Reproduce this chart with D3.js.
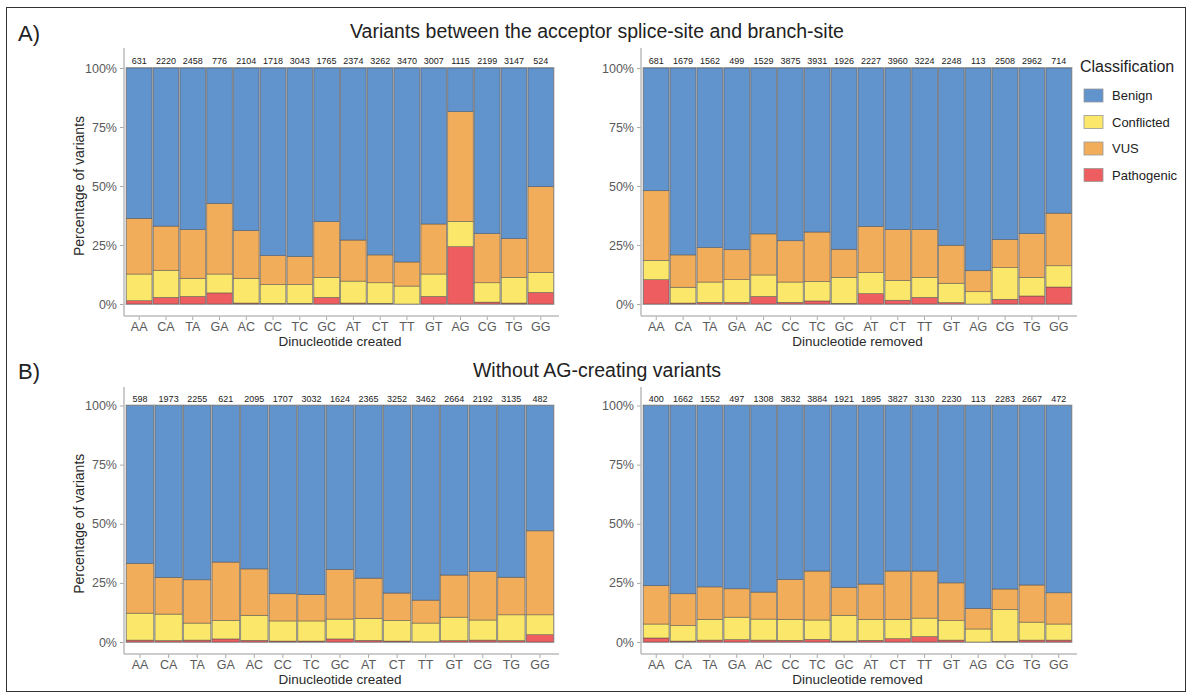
<!DOCTYPE html>
<html>
<head>
<meta charset="utf-8">
<script src="https://cdn.jsdelivr.net/npm/d3@7"></script>
<style>
  body { margin: 0; background: #fff; }
  svg { font-family: "Liberation Sans", Arial, sans-serif; }
</style>
</head>
<body>
<script>
// dinucleotide categories
var dinucAll = ["AA", "CA", "TA", "GA", "AC", "CC", "TC", "GC", "AT", "CT", "TT", "GT", "AG", "CG", "TG", "GG"];
var dinucNoAG = ["AA", "CA", "TA", "GA", "AC", "CC", "TC", "GC", "AT", "CT", "TT", "GT", "CG", "TG", "GG"];
var classes = ["Pathogenic", "Conflicted", "VUS", "Benign"];
var legendOrder = ["Benign", "Conflicted", "VUS", "Pathogenic"];
var yTicks = [0, 25, 50, 75, 100];

// panel A, created (percentages per class)
var aCreatedPatho = [1.4, 2.8, 3.2, 4.7, 0.4, 0.3, 0.3, 2.8, 0.4, 0.3, 0, 3.2, 24.3, 0.8, 0.4, 4.9];
var aCreatedConfl = [11.3, 11.5, 7.7, 8.0, 10.5, 8.0, 8.0, 8.5, 9.3, 8.7, 7.6, 9.5, 10.7, 8.2, 10.9, 8.5];
var aCreatedVus = [23.6, 18.7, 20.6, 29.9, 20.2, 12.2, 11.8, 23.6, 17.4, 11.8, 10.2, 21.2, 46.5, 20.8, 16.4, 36.3];
var aCreatedBenign = [63.7, 67.0, 68.5, 57.4, 68.9, 79.5, 79.9, 65.1, 72.9, 79.2, 82.2, 66.1, 18.5, 70.2, 72.3, 50.3];
var aCreatedN = [631, 2220, 2458, 776, 2104, 1718, 3043, 1765, 2374, 3262, 3470, 3007, 1115, 2199, 3147, 524];

// panel A, removed
var aRemovedPatho = [10.3, 0.4, 0.7, 0.7, 3.2, 0.7, 1.3, 0.3, 4.4, 1.6, 2.8, 0.6, 0, 2.0, 3.4, 7.2];
var aRemovedConfl = [8.2, 6.7, 8.6, 9.6, 9.1, 8.6, 8.3, 11.0, 8.9, 8.4, 8.5, 8.2, 5.2, 13.4, 7.9, 9.0];
var aRemovedVus = [29.5, 13.7, 14.6, 12.7, 17.4, 17.5, 20.9, 11.9, 19.6, 21.5, 20.2, 16.1, 8.9, 11.9, 18.5, 22.3];
var aRemovedBenign = [52.0, 79.2, 76.1, 77.0, 70.3, 73.2, 69.5, 76.8, 67.1, 68.5, 68.5, 75.1, 85.9, 72.7, 70.2, 61.5];
var aRemovedN = [681, 1679, 1562, 499, 1529, 3875, 3931, 1926, 2227, 3960, 3224, 2248, 113, 2508, 2962, 714];

// panel B, created (no AG)
var bCreatedPatho = [0.8, 0.6, 0.8, 1.3, 0.7, 0.4, 0.4, 1.3, 0.7, 0.4, 0.1, 0.6, 0.8, 0.6, 3.1];
var bCreatedConfl = [11.4, 11.2, 7.2, 7.8, 10.6, 8.5, 8.5, 8.4, 9.3, 8.7, 7.9, 9.9, 8.5, 10.9, 8.4];
var bCreatedVus = [21.0, 15.5, 18.3, 24.7, 19.6, 11.5, 11.1, 21.0, 17.0, 11.6, 9.7, 17.8, 20.5, 15.9, 35.5];
var bCreatedBenign = [66.8, 72.7, 73.7, 66.2, 69.1, 79.6, 80.0, 69.3, 73.0, 79.3, 82.3, 71.7, 70.2, 72.6, 53.0];
var bCreatedN = [598, 1973, 2255, 621, 2095, 1707, 3032, 1624, 2365, 3252, 3462, 2664, 2192, 3135, 482];

// panel B, removed
var bRemovedPatho = [1.7, 0.4, 0.8, 1.0, 0.8, 0.7, 1.1, 0.4, 0.7, 1.4, 2.3, 0.8, 0, 0.3, 0.8, 0.8];
var bRemovedConfl = [5.9, 6.6, 8.8, 9.5, 8.9, 8.9, 8.2, 10.9, 8.9, 8.2, 7.8, 8.2, 5.5, 13.5, 7.6, 6.8];
var bRemovedVus = [16.2, 13.4, 13.7, 12.0, 11.4, 16.8, 20.7, 11.8, 14.9, 20.4, 19.9, 16.0, 8.7, 8.6, 15.7, 13.2];
var bRemovedBenign = [76.2, 79.6, 76.7, 77.5, 78.9, 73.6, 70.0, 76.9, 75.5, 70.0, 70.0, 75.0, 85.8, 77.6, 75.9, 79.2];
var bRemovedN = [400, 1662, 1552, 497, 1308, 3832, 3884, 1921, 1895, 3827, 3130, 2230, 113, 2283, 2667, 472];

var color = d3.scaleOrdinal()
              .domain(["Benign", "Conflicted", "VUS", "Pathogenic"])
              .range(["#6193cd", "#fbe76a", "#f1ad5a", "#ee5d60"]);

var svg = d3.select("body")
            .append("svg")
            .attr("width", 1192)
            .attr("height", 697);

// outer frame
svg.append("rect")
   .attr("x", 6.5).attr("y", 7.5)
   .attr("width", 1179).attr("height", 684)
   .attr("fill", "none")
   .attr("stroke", "#333")
   .attr("stroke-width", 1);

// builds the rows for a panel
function makeRows(cats, patho, confl, vus, benign, counts) {
  return cats.map(function(c, i) {
    return {cat: c, Pathogenic: patho[i], Conflicted: confl[i], VUS: vus[i], Benign: benign[i], n: counts[i]};
  });
}

// draws one stacked percentage panel
function drawPanel(opts) {
  var rows = opts.rows;
  var x = d3.scaleBand()
            .domain(rows.map(function(d) { return d.cat; }))
            .range([opts.x0 + 2.5, opts.x1 - 2.5])
            .paddingInner(0.05);
  var y = d3.scaleLinear()
            .domain([0, 100])
            .range([opts.yBottom, opts.yTop]);

  var g = svg.append("g");
  var stack = d3.stack().keys(classes);
  var series = stack(rows);

  // outline of each bar
  g.selectAll("rect.outline")
   .data(rows)
   .enter()
   .append("rect")
   .attr("class", "outline")
   .attr("x", function(d) { return x(d.cat) - 0.5; })
   .attr("y", y(100) - 0.5)
   .attr("width", x.bandwidth() + 1)
   .attr("height", y(0) - y(100) + 1)
   .attr("fill", "none")
   .attr("stroke", "#b5b5b5")
   .attr("stroke-width", 1);

  g.selectAll("g.layer")
   .data(series)
   .enter()
   .append("g")
   .attr("class", "layer")
   .attr("fill", function(d) { return color(d.key); })
   .selectAll("rect")
   .data(function(d) { return d; })
   .enter()
   .append("rect")
   .attr("x", function(d) { return x(d.data.cat); })
   .attr("y", function(d) { return y(d[1]); })
   .attr("width", x.bandwidth())
   .attr("height", function(d) { return y(d[0]) - y(d[1]); })
   .attr("stroke", "#4a4a4a")
   .attr("stroke-width", 0.6)
   .attr("stroke-opacity", 0.75);

  // counts above the bars
  g.selectAll("text.count")
   .data(rows)
   .enter()
   .append("text")
   .attr("class", "count")
   .attr("x", function(d) { return x(d.cat) + x.bandwidth() / 2; })
   .attr("y", y(100) - 4)
   .attr("text-anchor", "middle")
   .style("font-size", "9px")
   .style("fill", "#222")
   .text(function(d) { return d.n; });

  // y axis
  var yAxis = d3.axisLeft(y)
                .tickValues(yTicks)
                .tickSize(4)
                .tickPadding(3)
                .tickFormat(function(d) { return d + "%"; });
  var ya = svg.append("g")
              .attr("transform", "translate(" + opts.x0 + ",0)")
              .call(yAxis);
  ya.select(".domain").remove();
  ya.selectAll(".tick line").attr("stroke", "#aaa");
  ya.selectAll(".tick text")
    .style("font-size", "12.5px")
    .style("font-family", "Liberation Sans, Arial, sans-serif")
    .attr("fill", "#5a5a5a");
  svg.append("line")
     .attr("x1", opts.x0).attr("x2", opts.x0)
     .attr("y1", opts.axisTop).attr("y2", opts.axisBottom)
     .attr("stroke", "#bbb").attr("stroke-width", 1.5);

  // x axis
  var xAxis = d3.axisBottom(x)
                .tickSize(4)
                .tickPadding(2);
  var xa = svg.append("g")
              .attr("transform", "translate(0," + opts.axisBottom + ")")
              .call(xAxis);
  xa.select(".domain").remove();
  xa.selectAll(".tick line").attr("stroke", "#aaa");
  xa.selectAll(".tick text")
    .style("font-size", "12.5px")
    .style("font-family", "Liberation Sans, Arial, sans-serif")
    .attr("fill", "#5a5a5a");
  svg.append("line")
     .attr("x1", opts.x0).attr("x2", opts.x1 + 3)
     .attr("y1", opts.axisBottom).attr("y2", opts.axisBottom)
     .attr("stroke", "#bbb").attr("stroke-width", 1.5);

  // x title
  svg.append("text")
     .attr("x", (opts.x0 + opts.x1) / 2)
     .attr("y", opts.axisBottom + 30)
     .attr("text-anchor", "middle")
     .style("font-size", "13.5px")
     .style("fill", "#2a2a2a")
     .text(opts.xTitle);

  // y title
  if (opts.yTitle) {
    svg.append("text")
       .attr("transform", "translate(84," + ((opts.yTop + opts.yBottom) / 2) + ")rotate(-90)")
       .attr("text-anchor", "middle")
       .style("font-size", "14px")
       .style("fill", "#2a2a2a")
       .text(opts.yTitle);
  }
}

// panel titles
svg.append("text").attr("x", 18).attr("y", 41)
   .style("font-size", "22px").style("fill", "#222").text("A)");
svg.append("text").attr("x", 597).attr("y", 38)
   .attr("text-anchor", "middle")
   .style("font-size", "19.5px").style("fill", "#222")
   .text("Variants between the acceptor splice-site and branch-site");
svg.append("text").attr("x", 18).attr("y", 379)
   .style("font-size", "22px").style("fill", "#222").text("B)");
svg.append("text").attr("x", 597).attr("y", 377)
   .attr("text-anchor", "middle")
   .style("font-size", "19.5px").style("fill", "#222")
   .text("Without AG-creating variants");

drawPanel({
  rows: makeRows(dinucAll, aCreatedPatho, aCreatedConfl, aCreatedVus, aCreatedBenign, aCreatedN),
  x0: 124, x1: 556, yTop: 68, yBottom: 304, axisTop: 48, axisBottom: 316,
  xTitle: "Dinucleotide created", yTitle: "Percentage of variants"
});
drawPanel({
  rows: makeRows(dinucAll, aRemovedPatho, aRemovedConfl, aRemovedVus, aRemovedBenign, aRemovedN),
  x0: 641, x1: 1074, yTop: 68, yBottom: 304, axisTop: 48, axisBottom: 316,
  xTitle: "Dinucleotide removed"
});
drawPanel({
  rows: makeRows(dinucNoAG, bCreatedPatho, bCreatedConfl, bCreatedVus, bCreatedBenign, bCreatedN),
  x0: 124, x1: 556, yTop: 405.5, yBottom: 642, axisTop: 387, axisBottom: 654,
  xTitle: "Dinucleotide created", yTitle: "Percentage of variants"
});
drawPanel({
  rows: makeRows(dinucAll, bRemovedPatho, bRemovedConfl, bRemovedVus, bRemovedBenign, bRemovedN),
  x0: 641, x1: 1074, yTop: 405.5, yBottom: 642, axisTop: 387, axisBottom: 654,
  xTitle: "Dinucleotide removed"
});

// legend
var legend = svg.append("g").attr("transform", "translate(1080,0)");
legend.append("text")
      .attr("x", 0).attr("y", 72)
      .style("font-size", "16px").style("fill", "#222")
      .text("Classification");
legend.selectAll("rect.key")
      .data(legendOrder)
      .enter()
      .append("rect")
      .attr("class", "key")
      .attr("x", 4)
      .attr("y", function(d, i) { return 89 + i * 26.5; })
      .attr("width", 19)
      .attr("height", 13)
      .attr("fill", function(d) { return color(d); })
      .attr("stroke", "#999")
      .attr("stroke-width", 0.8);
legend.selectAll("text.key")
      .data(legendOrder)
      .enter()
      .append("text")
      .attr("class", "key")
      .attr("x", 32)
      .attr("y", function(d, i) { return 100 + i * 26.5; })
      .style("font-size", "13px")
      .style("fill", "#222")
      .text(function(d) { return d; });
</script>
</body>
</html>
